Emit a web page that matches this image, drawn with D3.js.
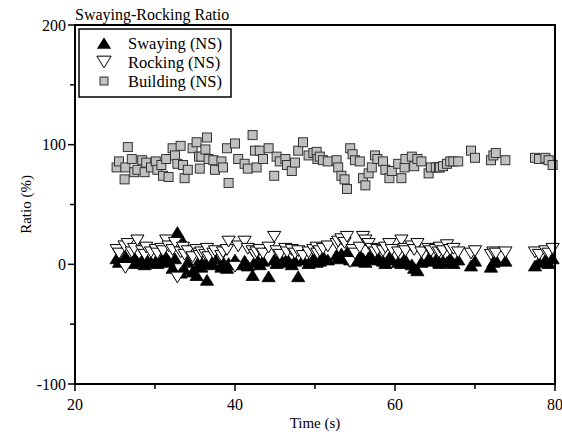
<!DOCTYPE html>
<html>
<head>
<meta charset="utf-8">
<style>
  html, body { margin: 0; padding: 0; background: #fff; }
  svg text { font-family: "Liberation Serif", "Times New Roman", serif; fill: #000; }
  .axis path, .axis line { stroke: #000; }
</style>
</head>
<body>
<div id="chart"></div>
<script src="https://cdn.jsdelivr.net/npm/d3@7"></script>
<script>

// sample times (s), shared by all three series
var time = [25.2, 25.5, 26.2, 26.3, 26.6, 27.1, 27.4, 27.8, 28.4, 28.7, 28.9, 29.5, 30.1, 30.3, 30.8,
  31.0, 31.4, 31.7, 32.2, 32.5, 32.8, 33.2, 33.5, 33.7, 34.1, 34.7, 35.2, 35.5, 35.6, 35.8,
  36.3, 36.5, 36.7, 37.3, 37.5, 38.3, 38.5, 39.0, 39.2, 40.0, 40.4, 41.2, 41.6, 42.2, 42.5,
  42.7, 43.1, 43.5, 44.2, 44.9, 45.2, 45.6, 46.3, 46.5, 47.1, 47.5, 47.9, 48.5, 49.2, 49.8,
  50.2, 50.3, 50.6, 51.0, 51.6, 52.7, 52.9, 53.3, 53.7, 54.0, 54.4, 54.7, 55.0, 55.6, 56.0,
  56.3, 56.7, 57.1, 57.5, 57.8, 58.5, 58.8, 59.3, 59.6, 60.4, 60.8, 61.2, 61.3, 62.1, 62.4,
  62.8, 63.3, 64.2, 64.5, 65.1, 65.5, 65.6, 66.0, 66.5, 66.9, 67.3, 67.9, 69.5, 70.0, 72.0,
  72.3, 72.6, 73.8, 77.5, 78.0, 78.8, 79.2, 79.7];

var building = [81, 86, 71, 81, 98, 88, 77, 79, 87, 77, 85, 81, 86, 79, 83,
  74, 88, 73, 97, 91, 84, 99, 83, 72, 79, 97, 102, 90, 80, 90,
  96, 106, 88, 87, 79, 86, 81, 97, 68, 101, 88, 84, 80, 108, 95,
  81, 95, 88, 97, 74, 90, 86, 88, 83, 78, 85, 95, 102, 91, 93,
  94, 88, 90, 87, 86, 87, 81, 74, 71, 63, 97, 92, 87, 86, 72,
  66, 76, 81, 91, 88, 86, 79, 72, 78, 84, 72, 81, 88, 90, 82,
  88, 86, 76, 81, 81, 81, 81, 82, 84, 86, 86, 86, 95, 89, 87,
  91, 93, 87, 89, 88, 89, 87, 83];

var swaying = [5, 2, 4, 7, 3, 1, 6, 2, 4, 0, 5, 2, 3, 1, 4,
  2, 6, 3, -3, 5, 27, -7, 19, -4, 2, -6, -9, 0, 4, -2,
  1, -13, 3, 0, 5, -2, 2, -3, 1, 4, 0, 3, -1, -9, 2,
  5, 0, 3, -10, 4, 1, 6, 2, 5, 0, 3, -10, 4, 1, 5,
  2, 6, 3, 7, 4, 8, 5, 9, 6, 10, 4, 7, 3, 8, 5,
  2, 6, 9, 4, 7, 3, 1, 6, 4, 2, 1, 5, 3, 0, -3,
  -5, 2, 5, 3, 4, 2, 1, 3, 2, 5, 1, 4, -1, 3, -2,
  2, 4, 3, -1, 2, 4, 1, 5];

var rocking = [12, 9, 15, -3, 17, 10, 13, 20, 11, 8, 14, 10, 12, 9, 13,
  11, 20, 15, 12, 18, -11, 10, 14, 8, 11, 6, 12, 9, 7, 10,
  8, 13, 6, 9, 11, 7, 10, 12, 19, -2, 15, 19, 13, 11, 8,
  10, 12, 9, 14, 23, 11, 8, 13, 10, 12, 9, 11, 7, 10, 12,
  14, 9, 11, 13, 15, 17, 19, 21, 18, 23, 2, 12, 9, 14, 23,
  20, 17, 13, 10, 12, 11, 14, 17, 12, 10, 20, 13, 11, 15, 12,
  17, 10, 13, 11, 12, 10, 14, 11, 16, 12, 13, 10, 9, 11, 8,
  10, 9, 10, 10, 8, 11, 9, 13];

var xTicks = [20, 40, 60, 80],
    xMinor = [30, 50, 70],
    yTicks = [-100, 0, 100, 200],
    yMinor = [-50, 50, 150];

var seriesNames = ["Swaying (NS)", "Rocking (NS)", "Building (NS)"];

var W = 562, H = 432;
var margin = {top: 25, right: 7, bottom: 48, left: 75},
    width = W - margin.left - margin.right,
    height = H - margin.top - margin.bottom;

var x = d3.scaleLinear().domain([20, 80]).range([0, width]);
var y = d3.scaleLinear().domain([-100, 200]).range([height, 0]);

var svg = d3.select("#chart").append("svg")
    .attr("width", W)
    .attr("height", H)
  .append("g")
    .attr("transform", "translate(" + margin.left + "," + margin.top + ")");

// triangle paths, s = width-ish
function triUp(s) { return "M0," + (-s * 0.45) + "L" + (s * 0.55) + "," + (s * 0.45) + "L" + (-s * 0.55) + "," + (s * 0.45) + "Z"; }
function triDown(s) { return "M0," + (s * 0.45) + "L" + (s * 0.55) + "," + (-s * 0.45) + "L" + (-s * 0.55) + "," + (-s * 0.45) + "Z"; }

var pts = time.map(function(t, i) {
  return {t: t, b: building[i], s: swaying[i], r: rocking[i]};
});

// swaying: filled up triangles
svg.append("g").selectAll("path")
    .data(pts)
  .enter().append("path")
    .attr("d", triUp(12))
    .attr("transform", function(d) { return "translate(" + x(d.t) + "," + y(d.s) + ")"; })
    .attr("fill", "#000")
    .attr("stroke", "#000")
    .attr("stroke-width", 0.8);

// rocking: open down triangles
svg.append("g").selectAll("path")
    .data(pts)
  .enter().append("path")
    .attr("d", triDown(12))
    .attr("transform", function(d) { return "translate(" + x(d.t) + "," + y(d.r) + ")"; })
    .attr("fill", "#fff")
    .attr("stroke", "#000")
    .attr("stroke-width", 1);

// building: grey squares
svg.append("g").selectAll("rect")
    .data(pts)
  .enter().append("rect")
    .attr("x", function(d) { return x(d.t) - 4.5; })
    .attr("y", function(d) { return y(d.b) - 4.5; })
    .attr("width", 9)
    .attr("height", 9)
    .attr("fill", "#c0c0c0")
    .attr("stroke", "#333")
    .attr("stroke-width", 1);

// frame
svg.append("rect")
    .attr("width", width)
    .attr("height", height)
    .attr("fill", "none")
    .attr("stroke", "#000")
    .attr("stroke-width", 2);

// axes
var xAxis = svg.append("g")
    .attr("class", "axis")
    .attr("transform", "translate(0," + height + ")");
xAxis.selectAll(".major").data(xTicks).enter().append("line")
    .attr("x1", x).attr("x2", x).attr("y1", 0).attr("y2", 7)
    .attr("stroke-width", 1.5);
xAxis.selectAll(".minor").data(xMinor).enter().append("line")
    .attr("x1", x).attr("x2", x).attr("y1", 0).attr("y2", 5)
    .attr("stroke-width", 1.5);
xAxis.selectAll("text").data(xTicks).enter().append("text")
    .attr("x", x)
    .attr("y", 26)
    .attr("text-anchor", "middle")
    .style("font-size", "16px")
    .text(function(d) { return d; });

var yAxis = svg.append("g").attr("class", "axis");
yAxis.selectAll(".major").data(yTicks).enter().append("line")
    .attr("y1", y).attr("y2", y).attr("x1", 0).attr("x2", -7)
    .attr("stroke-width", 1.5);
yAxis.selectAll(".minor").data(yMinor).enter().append("line")
    .attr("y1", y).attr("y2", y).attr("x1", 0).attr("x2", -5)
    .attr("stroke-width", 1.5);
yAxis.selectAll("text").data(yTicks).enter().append("text")
    .attr("x", -9)
    .attr("y", function(d) { return y(d) + 5.5; })
    .attr("text-anchor", "end")
    .style("font-size", "16px")
    .text(function(d) { return d; });

// labels
svg.append("text")
    .attr("x", width / 2)
    .attr("y", height + 44)
    .attr("text-anchor", "middle")
    .style("font-size", "15px")
    .text("Time (s)");

svg.append("text")
    .attr("transform", "translate(-44," + (height / 2) + ") rotate(-90)")
    .attr("text-anchor", "middle")
    .style("font-size", "15px")
    .text("Ratio (%)");

svg.append("text")
    .attr("x", 0)
    .attr("y", -5)
    .style("font-size", "16px")
    .text("Swaying-Rocking Ratio");

// legend
var legend = svg.append("g").attr("transform", "translate(4,4)");
legend.append("rect")
    .attr("width", 152)
    .attr("height", 68)
    .attr("fill", "#fff")
    .attr("stroke", "#000")
    .attr("stroke-width", 1.5);

var rows = legend.selectAll(".row")
    .data(seriesNames)
  .enter().append("g")
    .attr("transform", function(d, i) { return "translate(0," + (14 + i * 19) + ")"; });

rows.each(function(d, i) {
  var g = d3.select(this);
  if (i === 0) {
    g.append("path").attr("d", triUp(13)).attr("transform", "translate(25,0)").attr("fill", "#000");
  } else if (i === 1) {
    g.append("path").attr("d", triDown(13)).attr("transform", "translate(25,0)")
      .attr("fill", "#fff").attr("stroke", "#000").attr("stroke-width", 1);
  } else {
    g.append("rect").attr("x", 21).attr("y", -4).attr("width", 8).attr("height", 8)
      .attr("fill", "#c0c0c0").attr("stroke", "#333").attr("stroke-width", 1);
  }
  g.append("text")
    .attr("x", 49)
    .attr("y", 5.5)
    .style("font-size", "16.5px")
    .text(d);
});

</script>
</body>
</html>
